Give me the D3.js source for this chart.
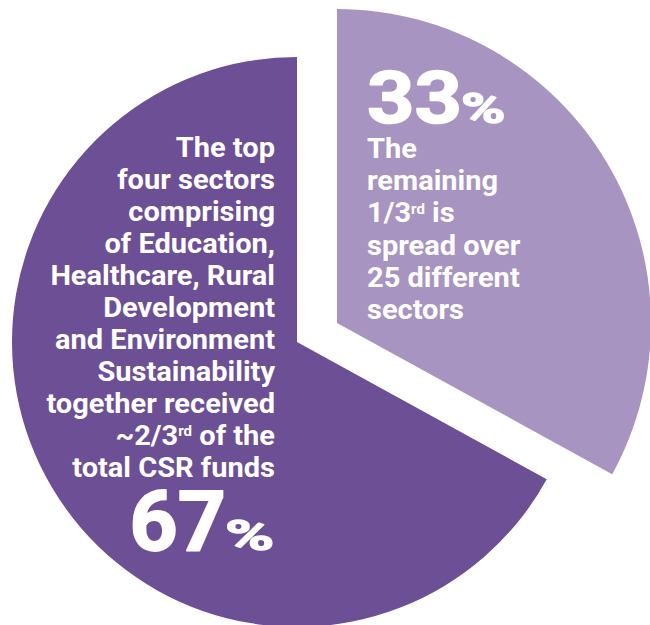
<!DOCTYPE html>
<html>
<head>
<meta charset="utf-8">
<script src="https://cdn.jsdelivr.net/npm/d3@7"></script>
<style>
  html, body { margin: 0; padding: 0; background: #fff; }
  svg { display: block; }
  text { font-family: Roboto, "Liberation Sans", sans-serif; font-weight: 700; fill: #fff; }
</style>
</head>
<body>
<svg id="chart" width="650" height="625"></svg>
<script>
// ---- data ----
const categories = ["Remaining 25 sectors", "Top four sectors"];
const values = [33, 67];
const bigLabels = ["33", "67"];
const leftLines = [
  "The top", "four sectors", "comprising", "of Education,", "Healthcare, Rural",
  "Development", "and Environment", "Sustainability", "together received",
  "~2/3|rd| of the", "total CSR funds"
];
const rightLines = [
  "The", "remaining", "1/3|rd| is", "spread over", "25 different", "sectors"
];
const colors = ["#a794c0", "#6c4f94"];

// ---- layout ----
const W = 650, H = 625;
const cx = 297, cy = 342;
const radii = [314, 285];
const explode = [[40, -19], [0, 0]];
const sx = 1.075; // horizontal widening of body text

const svg = d3.select("#chart");
const color = d3.scaleOrdinal().domain(categories).range(colors);

const pie = d3.pie().sort(null).value(d => d.value);
const arcs = pie(categories.map((c, i) => ({ category: c, value: values[i] })));

const g = svg.append("g").attr("transform", `translate(${cx},${cy})`);

g.selectAll("path.slice")
  .data(arcs)
  .join("path")
  .attr("class", "slice")
  .attr("transform", (d, i) => `translate(${explode[i][0]},${explode[i][1]})`)
  .attr("d", (d, i) => d3.arc().innerRadius(0).outerRadius(radii[i])(d))
  .attr("fill", d => color(d.data.category));

function addLine(sel, str) {
  const parts = str.split("|");
  parts.forEach((p, k) => {
    if (k % 2 === 1) {
      sel.append("tspan").attr("font-size", 14).attr("baseline-shift", "9").text(p);
    } else if (p.length) {
      sel.append("tspan").text(p);
    }
  });
}

function scaledText(x, y, scaleX, size, anchor, str, strokeW) {
  return svg.append("text")
    .attr("transform", `translate(${x},${y}) scale(${scaleX},1)`)
    .attr("x", 0).attr("y", 0)
    .attr("font-size", size)
    .attr("font-weight", 900)
    .attr("text-anchor", anchor)
    .attr("stroke", "#fff")
    .attr("stroke-width", strokeW)
    .attr("stroke-linejoin", "round")
    .text(str);
}

// right (light) text block
const rx = 367;
scaledText(rx, 123, 1.15, 72, "start", bigLabels[0], 1.6);
scaledText(461, 123, 1.4, 43, "start", "%", 1.4);
rightLines.forEach((ln, i) => {
  const t = svg.append("text")
    .attr("transform", `translate(${rx},${158 + i * 32.2}) scale(${sx},1)`)
    .attr("font-size", 27);
  addLine(t, ln);
});

// left (dark) text block
const lx = 275;
leftLines.forEach((ln, i) => {
  const t = svg.append("text")
    .attr("transform", `translate(${lx},${157 + i * 32}) scale(${sx},1)`)
    .attr("font-size", 27)
    .attr("text-anchor", "end");
  addLine(t, ln);
});
scaledText(226, 550, 1.0, 84, "end", bigLabels[1], 1.8);
scaledText(225, 550, 1.55, 43, "start", "%", 1.4);
</script>
</body>
</html>
